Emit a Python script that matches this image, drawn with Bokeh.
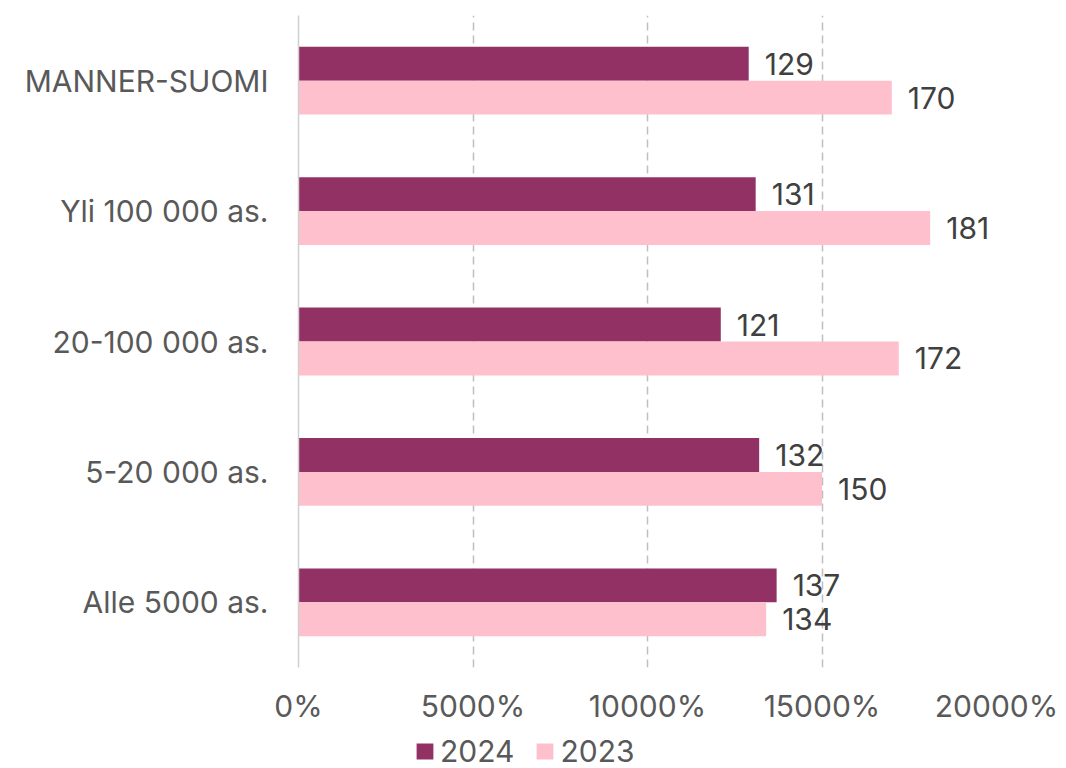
from bokeh.plotting import figure
from bokeh.layouts import column
from bokeh.models import FactorRange, FixedTicker, NumeralTickFormatter, Legend, LegendItem, ColumnDataSource, Range1d
from bokeh.transform import dodge
from bokeh.core.properties import value
from bokeh.embed import file_html
from bokeh.resources import INLINE

categories = ["MANNER-SUOMI", "Yli 100 000 as.", "20-100 000 as.", "5-20 000 as.", "Alle 5000 as."]
values_2024 = [129, 131, 121, 132, 137]
values_2023 = [170, 181, 172, 150, 134]
series = ["2024", "2023"]
x_ticks = [0, 50, 100, 150, 200]

FONT = "Inter"
FS = "30px"
c2024 = "#923264"
c2023 = "#FFC0CE"

src = ColumnDataSource(dict(cat=categories, v24=values_2024, v23=values_2023,
                            l24=[str(v) for v in values_2024], l23=[str(v) for v in values_2023]))

p = figure(width=1066, height=728, output_backend="svg", toolbar_location=None,
           y_range=FactorRange(factors=list(reversed(categories)), range_padding=0),
           x_range=Range1d(0, 200))
p.min_border_left = 298
p.min_border_right = 70
p.min_border_top = 15
p.min_border_bottom = 61
p.outline_line_color = None

r24 = p.hbar(y=dodge("cat", 0.13, range=p.y_range), right="v24", left=0, height=0.26,
             source=src, fill_color=c2024, line_color=None)
r23 = p.hbar(y=dodge("cat", -0.13, range=p.y_range), right="v23", left=0, height=0.26,
             source=src, fill_color=c2023, line_color=None)

p.text(x="v24", y=dodge("cat", 0.13, range=p.y_range), text="l24", source=src,
       x_offset=16, text_align="left", text_baseline="middle",
       text_font=value(FONT), text_font_size=FS, text_color="#404040")
p.text(x="v23", y=dodge("cat", -0.13, range=p.y_range), text="l23", source=src,
       x_offset=16, text_align="left", text_baseline="middle",
       text_font=value(FONT), text_font_size=FS, text_color="#404040")

p.xaxis.ticker = FixedTicker(ticks=x_ticks)
p.xaxis.formatter = NumeralTickFormatter(format="0%")
p.xaxis.axis_line_color = None
p.xaxis.major_tick_line_color = None
p.xaxis.minor_tick_line_color = None
p.xaxis.major_label_text_font = FONT
p.xaxis.major_label_text_font_size = FS
p.xaxis.major_label_text_color = "#595959"
p.xaxis.major_label_standoff = 14

p.yaxis.axis_line_color = "#d0d0d0"
p.yaxis.axis_line_width = 1.5
p.yaxis.major_tick_line_color = None
p.yaxis.minor_tick_line_color = None
p.yaxis.major_label_text_font = FONT
p.yaxis.major_label_text_font_size = FS
p.yaxis.major_label_text_color = "#595959"
p.yaxis.major_label_standoff = 24

p.ygrid.grid_line_color = None
p.xgrid.ticker = FixedTicker(ticks=x_ticks[1:])
p.xgrid.grid_line_color = "#bfbfbf"
p.xgrid.grid_line_width = 1.5
p.xgrid.grid_line_dash = "8 5"

# legend strip below the chart (its bars sit outside the visible range; only the legend shows)
lg = figure(width=1066, height=40, output_backend="svg", toolbar_location=None,
            x_range=Range1d(0, 200), y_range=Range1d(0, 1),
            x_axis_type=None, y_axis_type=None)
lg.min_border = 0
lg.outline_line_color = None
lg.xgrid.visible = False
lg.ygrid.visible = False
k24 = lg.hbar(y=value(-10), right="v24", left=0, height=0.5, source=src, fill_color=c2024, line_color=None)
k23 = lg.hbar(y=value(-10), right="v23", left=0, height=0.5, source=src, fill_color=c2023, line_color=None)

legend = Legend(items=[LegendItem(label=series[0], renderers=[k24]),
                       LegendItem(label=series[1], renderers=[k23])],
                orientation="horizontal", location=(116, -1),
                label_text_font=FONT, label_text_font_size=FS, label_text_color="#595959",
                glyph_width=21, glyph_height=20, spacing=20, padding=0, margin=0,
                label_standoff=5, border_line_color=None, background_fill_alpha=0)
lg.add_layout(legend, "center")

layout = column(p, lg, spacing=0)
open("out.html", "w").write(file_html(layout, INLINE))
